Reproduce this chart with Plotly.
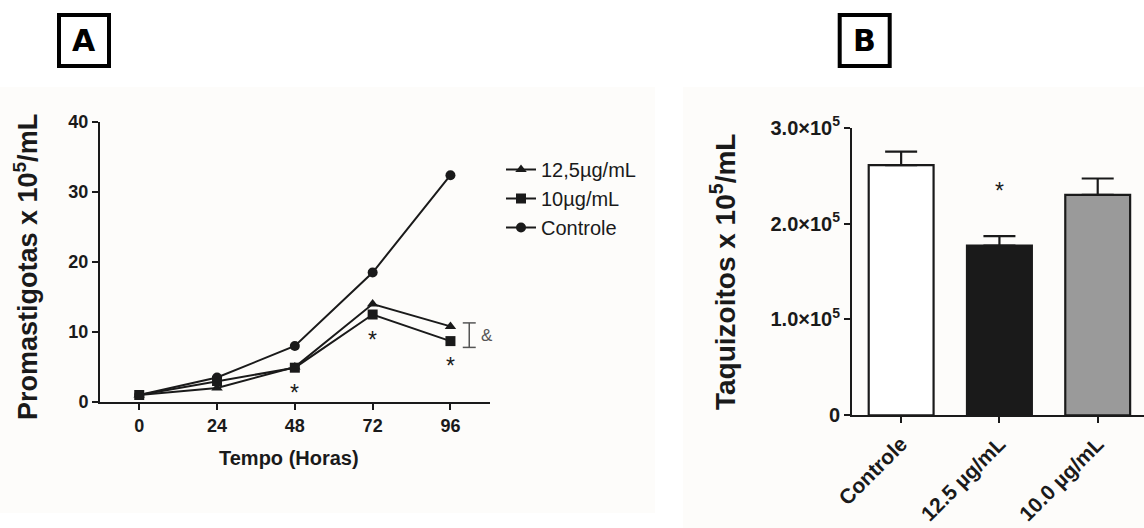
import plotly.graph_objects as go

# ---------------- data ----------------
hours = [0, 24, 48, 72, 96]
conc_125 = [1.0, 2.0, 5.0, 14.0, 10.8]
conc_10 = [1.0, 3.0, 4.9, 12.5, 8.7]
controle = [1.0, 3.5, 8.0, 18.5, 32.4]
series_names = ["12,5µg/mL", "10µg/mL", "Controle"]
x_ticks_A = [0, 24, 48, 72, 96]
y_ticks_A = [0, 10, 20, 30, 40]
sig_hours = [48, 72, 96]

bar_categories = ["Controle", "12.5 µg/mL", "10.0 µg/mL"]
bar_values = [2.61e5, 1.77e5, 2.30e5]
bar_errors = [0.14e5, 0.10e5, 0.17e5]
bar_sig = [False, True, False]
bar_colors = ["#ffffff", "#1a1a1a", "#9a9a9a"]
y_ticks_B = [0, 1e5, 2e5, 3e5]
y_ticktext_B = ["0", "1.0×10<sup>5</sup>", "2.0×10<sup>5</sup>", "3.0×10<sup>5</sup>"]

# ---------------- layout helpers ----------------
W, H = 1144, 528
def px(x):
    return x / W
def py(y):
    return 1 - y / H

INK = "#1a1a1a"
FONT = "Liberation Sans, Arial, sans-serif"

fig = go.Figure()

symbols = ["triangle-up", "square", "circle"]
for name, vals, sym in zip(series_names, [conc_125, conc_10, controle], symbols):
    fig.add_trace(go.Scatter(
        x=hours, y=vals, name=name, mode="lines+markers",
        line=dict(color=INK, width=2),
        marker=dict(symbol=sym, size=10, color=INK),
        xaxis="x", yaxis="y", legendgroup=name,
    ))

fig.add_trace(go.Bar(
    x=bar_categories, y=bar_values, width=0.66,
    marker=dict(color=bar_colors, line=dict(color=INK, width=2.2)),
    error_y=dict(type="data", array=bar_errors, arrayminus=[0] * len(bar_errors),
                 symmetric=False, color=INK, thickness=2.2, width=16),
    xaxis="x2", yaxis="y2", showlegend=False,
))

axis_common = dict(showline=True, linewidth=2, linecolor=INK, ticks="outside",
                   ticklen=6, tickwidth=2, tickcolor=INK, showgrid=False,
                   zeroline=False, automargin=False)

annotations = []
shapes = []

# backgrounds
shapes.append(dict(type="rect", xref="paper", yref="paper", layer="below",
                   x0=0, x1=px(655), y0=py(513), y1=py(87),
                   fillcolor="#fdfcfa", line=dict(width=0)))
shapes.append(dict(type="rect", xref="paper", yref="paper", layer="below",
                   x0=px(683), x1=1, y0=0, y1=py(87),
                   fillcolor="#fdfcfa", line=dict(width=0)))

# panel letter boxes
for label, cx in [("A", 84), ("B", 864.7)]:
    shapes.append(dict(type="rect", xref="paper", yref="paper",
                       x0=px(cx - 25), x1=px(cx + 25), y0=py(66), y1=py(15),
                       line=dict(color="#000000", width=4), fillcolor="#ffffff"))
    annotations.append(dict(text=label, xref="paper", yref="paper", x=px(cx), y=py(41),
                            xanchor="center", yanchor="middle", showarrow=False,
                            font=dict(family="DejaVu Sans", size=30, color="#000000",
                                      weight="bold")))

# axis titles
annotations.append(dict(text="Promastigotas x 10<sup>5</sup>/mL", xref="paper", yref="paper",
                        x=px(26), y=py(267), textangle=-90, showarrow=False,
                        xanchor="center", yanchor="middle",
                        font=dict(family=FONT, size=27, color=INK, weight="bold")))
annotations.append(dict(text="Tempo (Horas)", xref="paper", yref="paper",
                        x=px(289), y=py(458), showarrow=False,
                        xanchor="center", yanchor="middle",
                        font=dict(family=FONT, size=20, color=INK, weight="bold")))
annotations.append(dict(text="Taquizoitos x 10<sup>5</sup>/mL", xref="paper", yref="paper",
                        x=px(723), y=py(272), textangle=-90, showarrow=False,
                        xanchor="center", yanchor="middle",
                        font=dict(family=FONT, size=28, color=INK, weight="bold")))

# significance asterisks in panel A
for h in sig_hours:
    i = hours.index(h)
    low = min(conc_125[i], conc_10[i])
    annotations.append(dict(text="*", x=h, y=low - 3.0, xref="x", yref="y",
                            showarrow=False, yshift=-4,
                            font=dict(family=FONT, size=23, color=INK)))

# "&" bracket between treated series at 96 h
i96 = hours.index(96)
top = conc_125[i96] + 0.5
bot = conc_10[i96] - 0.9
bx = 101.8
GRAY = "#555555"
shapes.append(dict(type="line", xref="x", yref="y", x0=bx, x1=bx, y0=bot, y1=top,
                   line=dict(color=GRAY, width=1.5)))
for yy in (bot, top):
    shapes.append(dict(type="line", xref="x", yref="y", x0=bx - 2.0, x1=bx + 2.0,
                       y0=yy, y1=yy, line=dict(color=GRAY, width=1.5)))
annotations.append(dict(text="&", x=bx + 5.4, y=(top + bot) / 2, xref="x", yref="y",
                        showarrow=False, font=dict(family=FONT, size=17, color=GRAY)))

# significance in panel B
for cat, v, e, s in zip(bar_categories, bar_values, bar_errors, bar_sig):
    if s:
        annotations.append(dict(text="*", x=cat, y=v + e + 0.53e5, xref="x2", yref="y2",
                                showarrow=False, yshift=-6,
                                font=dict(family=FONT, size=23, color=INK)))

fig.update_layout(
    template="none",
    width=W, height=H, autosize=False,
    margin=dict(l=0, r=0, t=0, b=0, pad=0, autoexpand=False),
    paper_bgcolor="#ffffff", plot_bgcolor="rgba(0,0,0,0)",
    font=dict(family=FONT, color=INK),
    xaxis=dict(domain=[px(100), px(490)], range=[-12.1, 108.2], anchor="y",
               tickvals=x_ticks_A,
               tickfont=dict(family=FONT, size=18, color=INK, weight="bold"),
               **axis_common),
    yaxis=dict(domain=[py(402), py(122)], range=[0, 40], anchor="x",
               tickvals=y_ticks_A,
               tickfont=dict(family=FONT, size=18, color=INK, weight="bold"),
               **axis_common),
    xaxis2=dict(domain=[px(852), 1.0], range=[-0.5, 2.471], anchor="y2",
                type="category", tickangle=-45,
                tickfont=dict(family=FONT, size=21, color=INK, weight="bold"),
                **axis_common),
    yaxis2=dict(domain=[py(415.3), py(127.7)], range=[0, 3e5], anchor="x2",
                tickvals=y_ticks_B, ticktext=y_ticktext_B,
                tickfont=dict(family=FONT, size=20, color=INK, weight="bold"),
                **axis_common),
    legend=dict(x=px(501), y=py(150), xanchor="left", yanchor="top",
                bgcolor="rgba(0,0,0,0)", font=dict(family=FONT, size=20, color=INK),
                tracegroupgap=0, itemwidth=30, borderwidth=0),
    shapes=shapes,
    annotations=annotations,
    showlegend=True,
)

fig.write_html("out.html")
